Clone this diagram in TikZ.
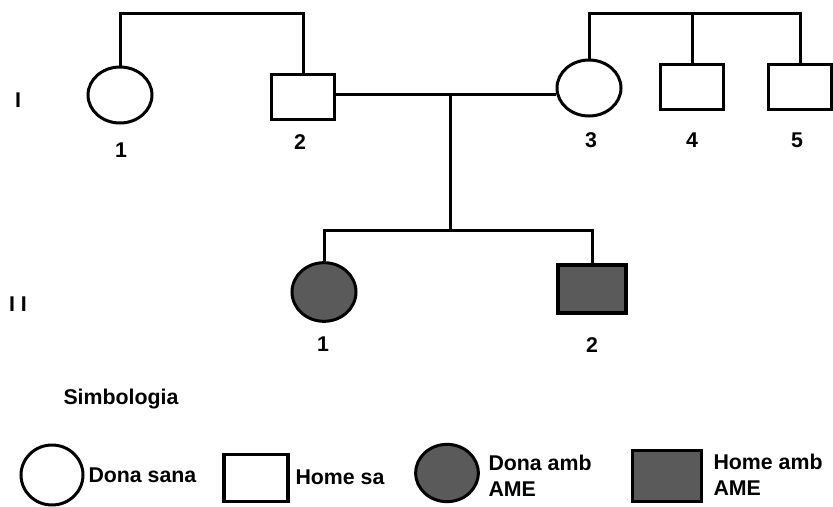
\documentclass[tikz,border=0pt]{standalone}
\usepackage{fontspec}
\setmainfont{Liberation Sans}
\usetikzlibrary{shapes.geometric}
\definecolor{ame}{RGB}{90,90,90}

\begin{document}
\begin{tikzpicture}[x=0.75pt,y=-0.75pt,line width=2.25pt,
		every node/.style={font=\bfseries\fontsize{16}{19.5}\selectfont},
		dona/.style={ellipse,draw,minimum width=48pt,minimum height=42pt,inner sep=0pt},
		home/.style={rectangle,draw,line width=2.6pt,minimum width=47pt,minimum height=34pt,inner sep=0pt},
		afectat/.style={fill=ame},
		rotul/.style={inner sep=0pt}]
		\useasboundingbox (0,0) rectangle (833,507);
		%draw generation I
		\node[dona] (i1) at (120,95) {};
		\node[home] (i2) at (303,97) {};
		\node[dona] (i3) at (589,88) {};
		\node[home] (i4) at (692,87) {};
		\node[home] (i5) at (800,87) {};
		%draw generation II
		\node[dona,afectat,minimum height=44pt] (ii1) at (324,292) {};
		\node[home,afectat,minimum width=51pt,minimum height=36pt] (ii2) at (592,289) {};
		%draw lines
		\coordinate (dalt) at (0,13);
		\coordinate (m) at (450,94);
		\coordinate (s) at (450,230);
		\draw (i1.north) -- (i1.north |- dalt) -- (i2.north |- dalt) -- (i2.north);
		\draw (i3.north) -- (i3.north |- dalt) -- (i5.north |- dalt) -- (i5.north);
		\draw (i4.north) -- (i4.north |- dalt);
		\draw (i2.east |- m) -- (i3.west |- m);
		\draw (m) -- (s);
		\draw (ii1.north) -- (ii1.north |- s) -- (ii2.north |- s) -- (ii2.north);
		%draw numbers
		\foreach \n/\x/\y in {1/121/150, 2/300/142, 3/591/140, 4/692/140, 5/797/140}{
			\node[rotul] (num\n) at (\x,\y) {\n};
		}
		\node[rotul] (numii1) at (323,344) {1};
		\node[rotul] (numii2) at (592,345) {2};
		\node[rotul] (gen1) at (18,100) {I};
		\node[rotul] (gen2) at (18,304) {I I};
		%draw legend
		\node[rotul] (simb) at (121,399) {Simbologia};
		\node[dona,minimum width=46.5pt,minimum height=45pt] (l1) at (52,475) {};
		\node[rotul,anchor=west] (t1) at (87,475) {Dona sana};
		\node[home,minimum width=48pt,minimum height=35pt] (l2) at (256,478) {};
		\node[rotul,anchor=west] (t2) at (294,477) {Home sa};
		\node[dona,afectat,minimum width=47pt,minimum height=43pt] (l3) at (447,473) {};
		\node[rotul,anchor=west,align=left] (t3) at (487,476) {Dona amb\\AME};
		\node[home,afectat,minimum width=52pt,minimum height=38pt] (l4) at (667,476) {};
		\node[rotul,anchor=west,align=left] (t4) at (712,475) {Home amb\\AME};
\end{tikzpicture}
\end{document}
